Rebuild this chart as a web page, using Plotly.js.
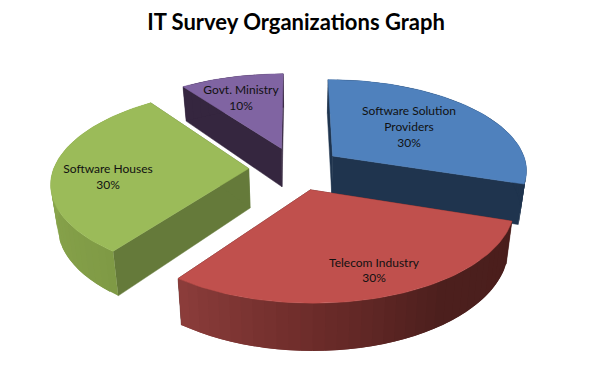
<!DOCTYPE html>
<html>
<head>
<meta charset="utf-8">
<script src="https://cdn.plot.ly/plotly-3.0.0.min.js"></script>
<style>html,body{margin:0;padding:0;background:#fff}#chart{width:595px;height:365px}</style>
</head>
<body>
<div id="chart"></div>
<script>
// Data
const categories = ["Software Solution<br>Providers", "Telecom Industry", "Software Houses", "Govt. Ministry"];
const percents = [30, 30, 30, 10];
const chartTitle = "IT Survey Organizations Graph";

// Styles
const topColors = ["#4F81BD", "#C0504D", "#9BBB59", "#8064A2"];
const radialWallColors = ["#1F344E", "#4A1E1C", "#657A3A", "#35263F"];
const outerWallStops = [
  [[0, "#1F344E"], [1, "#1F344E"]],
  [[0, "#4A1E1C"], [0.35, "#4C1F1D"], [0.65, "#6B2B29"], [1, "#8C3D3B"]],
  [[0, "#7F9A45"], [0.5, "#8AA64D"], [0.8, "#88A44C"], [1, "#8EAB50"]],
  [[0, "#35263F"], [1, "#35263F"]]
];
const labelX = [409, 374, 108, 241];
const labelY = [128, 271.5, 178, 99];
const drawOrder = [3, 0, 2, 1];

// Projection of the exploded, tilted pie
const cx = 295.5, cy = 168.5, ax = 195, by = 90.5, persp = 0.142, explode = 0.24, depth = 39.5, vanishX = 300, lean = 0.027;
function project(u, v, lower) {
  const d = 1 + persp * v;
  let x = cx + ax * u / d, y = cy - by * v / d;
  if (lower) { x += (vanishX - x) * lean; y += depth / d; }
  return [x, y];
}
const rad = a => a * Math.PI / 180;
function hex(c) { return [1, 3, 5].map(i => parseInt(c.substr(i, 2), 16)); }
function stopColor(stops, f) {
  for (let i = 1; i < stops.length; i++) {
    if (f <= stops[i][0]) {
      const k = (f - stops[i - 1][0]) / (stops[i][0] - stops[i - 1][0] || 1);
      const a = hex(stops[i - 1][1]), b = hex(stops[i][1]);
      return "rgb(" + a.map((p, j) => Math.round(p + (b[j] - p) * k)).join(",") + ")";
    }
  }
  return stops[stops.length - 1][1];
}
function poly(points, color, lineWidth) {
  return { type: "scatter", mode: "lines", x: points.map(p => p[0]), y: points.map(p => p[1]),
    fill: "toself", fillcolor: color, line: { color: color, width: lineWidth }, hoverinfo: "skip", showlegend: false };
}

const total = percents.reduce((a, b) => a + b, 0);
let running = 0;
const slices = percents.map(p => {
  const s = { a0: running / total * 360, a1: (running + p) / total * 360 };
  running += p;
  return s;
});

const traces = [];
drawOrder.forEach(i => {
  const { a0, a1 } = slices[i];
  const mid = rad((a0 + a1) / 2);
  const ou = explode * Math.sin(mid), ov = explode * Math.cos(mid);
  const rim = a => [ou + Math.sin(rad(a)), ov + Math.cos(rad(a))];
  // radial walls
  [a0, a1].forEach(a => {
    const r = rim(a);
    traces.push(poly([project(ou, ov), project(r[0], r[1]), project(r[0], r[1], true), project(ou, ov, true), project(ou, ov)], radialWallColors[i], 0.5));
  });
  // outer wall strips: each one reaches under the next, so no seams show
  const step = 3;
  for (let a = a0; a < a1 - 0.001; a += step) {
    const pts = [], bottom = [];
    const end = Math.min(a + 2 * step, a1);
    for (let t = a; t <= end + 0.001; t += step / 2) {
      const r = rim(t);
      pts.push(project(r[0], r[1]));
      bottom.unshift(project(r[0], r[1], true));
    }
    const outline = pts.concat(bottom);
    outline.push(pts[0]);
    const color = stopColor(outerWallStops[i], (a + step / 2 - a0) / (a1 - a0));
    traces.push(poly(outline, color, 0));
  }
  // top face
  const outline = [project(ou, ov)];
  for (let a = a0; a <= a1 + 0.001; a += 1.5) { const r = rim(a); outline.push(project(r[0], r[1])); }
  outline.push(project(ou, ov));
  traces.push(poly(outline, topColors[i], 0.5));
});

// Slice labels
traces.push({ type: "scatter", mode: "text", x: labelX, y: labelY,
  text: categories.map((c, i) => c + "<br>" + percents[i] + "%"),
  textposition: "middle center", textfont: { family: "Lato, Carlito, sans-serif", size: 12, color: "#111111" },
  hoverinfo: "skip", showlegend: false, cliponaxis: false });

const layout = {
  width: 595, height: 365,
  margin: { l: 0, r: 0, t: 0, b: 0 },
  paper_bgcolor: "#ffffff", plot_bgcolor: "#ffffff",
  showlegend: false,
  title: { text: "<b>" + chartTitle + "</b>", x: 0.4975, xanchor: "center", y: 0.94, yanchor: "middle",
    font: { family: "Lato, Carlito, sans-serif", size: 22, color: "#000000" } },
  xaxis: { range: [0, 595], visible: false, fixedrange: true },
  yaxis: { range: [365, 0], visible: false, fixedrange: true }
};
Plotly.newPlot("chart", traces, layout, { displayModeBar: false, staticPlot: true });
</script>
</body>
</html>
